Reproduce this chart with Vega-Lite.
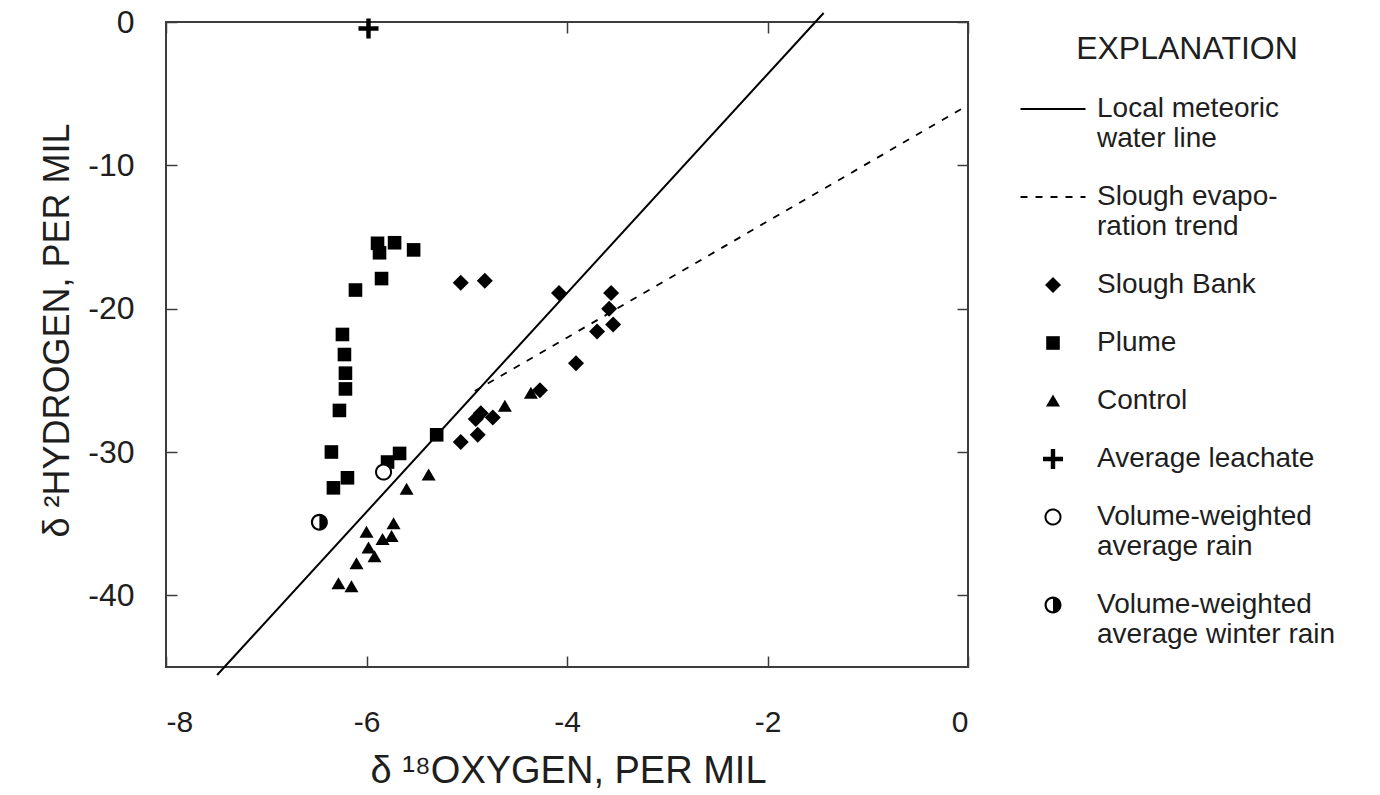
{
  "$schema": "https://vega.github.io/schema/vega-lite/v6.json",
  "width": 802,
  "height": 645,
  "autosize": {"type": "none"},
  "padding": {"left": 166, "top": 22, "right": 412, "bottom": 128},
  "background": "white",
  "config": {
    "font": "Liberation Sans",
    "view": {"stroke": "#3c3c3c", "strokeWidth": 2},
    "axis": {
      "grid": false,
      "domain": false,
      "tickColor": "#3c3c3c",
      "tickWidth": 1.5,
      "tickSize": -11,
      "labelColor": "#1e1e1e",
      "titleColor": "#1e1e1e",
      "labelFont": "Liberation Sans",
      "titleFont": "Liberation Sans",
      "titleFontWeight": "normal"
    },
    "legend": {
      "orient": "none",
      "legendX": 873,
      "legendY": 12,
      "titleFontSize": 32,
      "titleFontWeight": "normal",
      "titleColor": "#1e1e1e",
      "titleAnchor": "middle",
      "titleLimit": 600,
      "titlePadding": 29,
      "labelFontSize": 28,
      "labelColor": "#1e1e1e",
      "labelOffset": 30,
      "labelLimit": 500,
      "symbolSize": 400,
      "symbolOpacity": 1,
      "rowPadding": 30
    }
  },
  "datasets": {
    "lines": [
      {"series": "Local meteoric water line", "o18": -7.49, "h2": -45.56},
      {"series": "Local meteoric water line", "o18": -1.44, "h2": 0.63},
      {"series": "Slough evaporation trend", "o18": -4.92, "h2": -25.75},
      {"series": "Slough evaporation trend", "o18": 0, "h2": -5.8}
    ],
    "samples": [
      {"series": "Slough Bank", "o18": -5.06, "h2": -18.2},
      {"series": "Slough Bank", "o18": -4.82, "h2": -18.05},
      {"series": "Slough Bank", "o18": -4.08, "h2": -18.9},
      {"series": "Slough Bank", "o18": -3.56, "h2": -18.9},
      {"series": "Slough Bank", "o18": -3.58, "h2": -20.0},
      {"series": "Slough Bank", "o18": -3.54, "h2": -21.1},
      {"series": "Slough Bank", "o18": -3.70, "h2": -21.6},
      {"series": "Slough Bank", "o18": -3.91, "h2": -23.8},
      {"series": "Slough Bank", "o18": -4.27, "h2": -25.7},
      {"series": "Slough Bank", "o18": -4.74, "h2": -27.6},
      {"series": "Slough Bank", "o18": -4.86, "h2": -27.3},
      {"series": "Slough Bank", "o18": -4.91, "h2": -27.7},
      {"series": "Slough Bank", "o18": -4.89, "h2": -28.8},
      {"series": "Slough Bank", "o18": -5.06, "h2": -29.3},
      {"series": "Plume", "o18": -5.89, "h2": -15.44},
      {"series": "Plume", "o18": -5.72, "h2": -15.4},
      {"series": "Plume", "o18": -5.87, "h2": -16.1},
      {"series": "Plume", "o18": -5.53, "h2": -15.9},
      {"series": "Plume", "o18": -5.85, "h2": -17.9},
      {"series": "Plume", "o18": -6.11, "h2": -18.7},
      {"series": "Plume", "o18": -6.24, "h2": -21.8},
      {"series": "Plume", "o18": -6.22, "h2": -23.2},
      {"series": "Plume", "o18": -6.21, "h2": -24.5},
      {"series": "Plume", "o18": -6.21, "h2": -25.6},
      {"series": "Plume", "o18": -6.27, "h2": -27.1},
      {"series": "Plume", "o18": -6.35, "h2": -30.0},
      {"series": "Plume", "o18": -6.33, "h2": -32.5},
      {"series": "Plume", "o18": -6.19, "h2": -31.8},
      {"series": "Plume", "o18": -5.79, "h2": -30.7},
      {"series": "Plume", "o18": -5.67, "h2": -30.1},
      {"series": "Plume", "o18": -5.30, "h2": -28.8},
      {"series": "Control", "o18": -5.38, "h2": -31.6},
      {"series": "Control", "o18": -5.60, "h2": -32.6},
      {"series": "Control", "o18": -5.73, "h2": -35.0},
      {"series": "Control", "o18": -6.00, "h2": -35.6},
      {"series": "Control", "o18": -5.84, "h2": -36.1},
      {"series": "Control", "o18": -5.75, "h2": -35.9},
      {"series": "Control", "o18": -5.98, "h2": -36.7},
      {"series": "Control", "o18": -5.92, "h2": -37.3},
      {"series": "Control", "o18": -6.10, "h2": -37.8},
      {"series": "Control", "o18": -6.28, "h2": -39.2},
      {"series": "Control", "o18": -6.15, "h2": -39.4},
      {"series": "Control", "o18": -4.62, "h2": -26.8},
      {"series": "Control", "o18": -4.36, "h2": -25.9},
      {"series": "Average leachate", "o18": -5.98, "h2": -0.45},
      {"series": "Volume-weighted average winter rain", "o18": -6.47, "h2": -34.9},
      {"series": "Volume-weighted average rain", "o18": -5.83, "h2": -31.4}
    ]
  },
  "layer": [
    {
      "data": {"name": "lines"},
      "transform": [{"filter": "datum.series === 'Local meteoric water line'"}],
      "mark": {"type": "line", "color": "black", "strokeWidth": 2},
      "encoding": {
        "x": {
          "field": "o18",
          "type": "quantitative",
          "scale": {"domain": [-8, 0], "nice": false, "zero": false},
          "axis": {
            "orient": "bottom",
            "values": [-8, -6, -4, -2, 0],
            "labelExpr": "toString(datum.value)",
            "labelFontSize": 30,
            "labelPadding": 51,
            "title": "δ ¹⁸OXYGEN, PER MIL",
            "titleFontSize": 38,
            "titleX": 402,
            "titleY": 115,
            "titleBaseline": "alphabetic",
            "titleAlign": "center"
          }
        },
        "y": {
          "field": "h2",
          "type": "quantitative",
          "scale": {"domain": [-45, 0], "nice": false, "zero": false},
          "axis": {
            "orient": "left",
            "values": [0, -10, -20, -30, -40],
            "labelExpr": "toString(datum.value)",
            "labelFontSize": 32,
            "labelPadding": 43,
            "title": "δ ²HYDROGEN, PER MIL",
            "titleFontSize": 36,
            "titleX": -98,
            "titleY": 308,
            "titleAngle": -90,
            "titleBaseline": "alphabetic",
            "titleAlign": "center"
          }
        }
      }
    },
    {
      "data": {"name": "lines"},
      "transform": [{"filter": "datum.series === 'Slough evaporation trend'"}],
      "mark": {"type": "line", "color": "black", "strokeWidth": 1.8, "strokeDash": [7, 8]},
      "encoding": {
        "x": {"field": "o18", "type": "quantitative", "axis": null},
        "y": {"field": "h2", "type": "quantitative", "axis": null}
      }
    },
    {
      "data": {"name": "samples"},
      "mark": {"type": "point", "filled": true, "size": 400, "opacity": 1, "stroke": "black"},
      "encoding": {
        "x": {
          "field": "o18",
          "type": "quantitative",
          "axis": {"orient": "top", "values": [-8, -6, -4, -2, 0], "labels": false, "title": null}
        },
        "y": {
          "field": "h2",
          "type": "quantitative",
          "axis": {"orient": "right", "values": [0, -10, -20, -30, -40], "labels": false, "title": null}
        },
        "shape": {
          "field": "series",
          "type": "nominal",
          "scale": {
            "domain": ["Local meteoric water line", "Slough evaporation trend", "Slough Bank", "Plume", "Control", "Average leachate", "Volume-weighted average rain", "Volume-weighted average winter rain"],
            "range": [
              "M-3.25,0H3.25",
              "M-3.25,0H3.25",
              "M0,-0.8L0.8,0L0,0.8L-0.8,0Z",
              "M-0.68,-0.68H0.68V0.68H-0.68Z",
              "M0,-0.65L0.7,0.55L-0.7,0.55Z",
              "M-0.22,-1H0.22V-0.22H1V0.22H0.22V1H-0.22V0.22H-1V-0.22H-0.22Z",
              "M0,-0.75A0.75,0.75 0 1,1 0,0.75A0.75,0.75 0 1,1 0,-0.75Z",
              "M0,-0.85A0.85,0.85 0 1,1 0,0.85A0.85,0.85 0 1,1 0,-0.85Z M0,-0.63A0.63,0.63 0 0,0 0,0.63Z"
            ]
          },
          "legend": {
            "orient": "none",
            "title": "EXPLANATION",
            "labelExpr": "datum.label === 'Local meteoric water line' ? ['Local meteoric', 'water line'] : datum.label === 'Slough evaporation trend' ? ['Slough evapo-', 'ration trend'] : datum.label === 'Volume-weighted average rain' ? ['Volume-weighted', 'average rain'] : datum.label === 'Volume-weighted average winter rain' ? ['Volume-weighted', 'average winter rain'] : datum.label"
          }
        },
        "fill": {
          "field": "series",
          "type": "nominal",
          "scale": {
            "type": "ordinal",
            "domain": ["Local meteoric water line", "Slough evaporation trend", "Slough Bank", "Plume", "Control", "Average leachate", "Volume-weighted average rain", "Volume-weighted average winter rain"],
            "range": ["transparent", "transparent", "black", "black", "black", "black", "white", "black"]
          },
          "legend": {
            "orient": "none",
            "title": "EXPLANATION",
            "labelExpr": "datum.label === 'Local meteoric water line' ? ['Local meteoric', 'water line'] : datum.label === 'Slough evaporation trend' ? ['Slough evapo-', 'ration trend'] : datum.label === 'Volume-weighted average rain' ? ['Volume-weighted', 'average rain'] : datum.label === 'Volume-weighted average winter rain' ? ['Volume-weighted', 'average winter rain'] : datum.label"
          }
        },
        "strokeDash": {
          "field": "series",
          "type": "nominal",
          "scale": {
            "type": "ordinal",
            "domain": ["Local meteoric water line", "Slough evaporation trend", "Slough Bank", "Plume", "Control", "Average leachate", "Volume-weighted average rain", "Volume-weighted average winter rain"],
            "range": [[1, 0], [7, 8], [1, 0], [1, 0], [1, 0], [1, 0], [1, 0], [1, 0]]
          },
          "legend": {
            "orient": "none",
            "title": "EXPLANATION",
            "labelExpr": "datum.label === 'Local meteoric water line' ? ['Local meteoric', 'water line'] : datum.label === 'Slough evaporation trend' ? ['Slough evapo-', 'ration trend'] : datum.label === 'Volume-weighted average rain' ? ['Volume-weighted', 'average rain'] : datum.label === 'Volume-weighted average winter rain' ? ['Volume-weighted', 'average winter rain'] : datum.label"
          }
        },
        "strokeWidth": {
          "field": "series",
          "type": "nominal",
          "scale": {
            "type": "ordinal",
            "domain": ["Local meteoric water line", "Slough evaporation trend", "Slough Bank", "Plume", "Control", "Average leachate", "Volume-weighted average rain", "Volume-weighted average winter rain"],
            "range": [2, 2, 0, 0, 0, 0, 2, 0]
          },
          "legend": {
            "orient": "none",
            "title": "EXPLANATION",
            "labelExpr": "datum.label === 'Local meteoric water line' ? ['Local meteoric', 'water line'] : datum.label === 'Slough evaporation trend' ? ['Slough evapo-', 'ration trend'] : datum.label === 'Volume-weighted average rain' ? ['Volume-weighted', 'average rain'] : datum.label === 'Volume-weighted average winter rain' ? ['Volume-weighted', 'average winter rain'] : datum.label"
          }
        }
      }
    }
  ],
  "resolve": {"axis": {"x": "independent", "y": "independent"}}
}
